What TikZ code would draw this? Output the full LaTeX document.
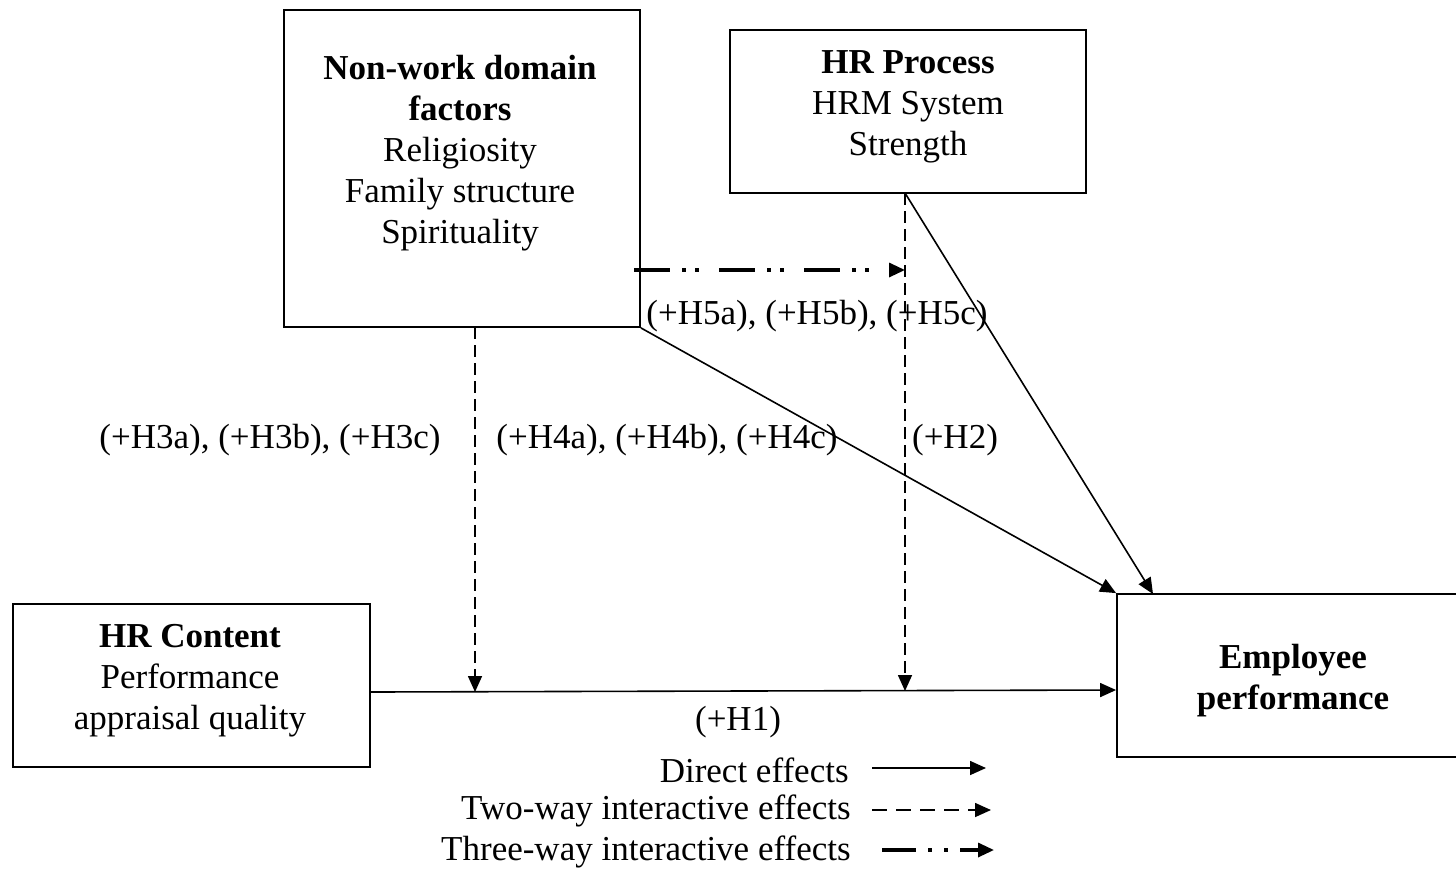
\documentclass[tikz,border=0pt]{standalone}
\usepackage{fontspec}
\setmainfont{Liberation Serif}
\usetikzlibrary{arrows.meta}
\begin{document}
\begin{tikzpicture}[x=0.5pt,y=-0.5pt,
  box/.style={draw,line width=0.9pt,rectangle,inner sep=0pt},
  txt/.style={align=center,inner sep=0pt,font=\fontsize{17.5pt}{20.5pt}\selectfont},
  lbl/.style={inner sep=0pt,font=\fontsize{17.5pt}{20.5pt}\selectfont},
  tip/.style={-{Triangle[length=8pt,width=7pt]}},
  solidarrow/.style={tip,line width=0.8pt},
  dasharrow/.style={tip,line width=0.8pt,dash pattern=on 6pt off 3pt},
  dotdasharrow/.style={tip,line width=1.6pt,dash pattern=on 18pt off 6pt on 2pt off 4.5pt on 2pt off 10pt}
]
\useasboundingbox (0,0) rectangle (1456,869);
% boxes
\node[box,minimum width=178pt,minimum height=158.5pt] (nw) at (462,168.5) {};
\node[box,minimum width=178pt,minimum height=81.5pt] (hp) at (908,111.5) {};
\node[box,minimum width=178.5pt,minimum height=81.5pt] (hc) at (191.5,685.5) {};
\begin{scope}
\clip (0,0) rectangle (1456,869);
\node[box,minimum width=179pt,minimum height=81.5pt] (ep) at (1296,675.5) {};
\end{scope}
% box texts
\node[txt] (nwt) at (460,153) {\textbf{Non-work domain}\\\textbf{factors}\\Religiosity\\Family structure\\Spirituality};
\node[txt] (hpt) at (908,107) {\textbf{HR Process}\\HRM System\\Strength};
\node[txt] (hct) at (190,681) {\textbf{HR Content}\\Performance\\appraisal quality};
\node[txt] (ept) at (1293,681) {\textbf{Employee}\\\textbf{performance}};
% coordinates
\coordinate (m1) at (475,692);
\coordinate (m2) at (905,691);
\coordinate (nwb) at (475,327);
\coordinate (hpb) at (905,193);
\coordinate (nwr) at (640,270);
\coordinate (m3) at (905,270);
\coordinate (eptl) at (1153,594);
% connectors
\draw[solidarrow] (hc.east |- 0,692) -- (ep.west |- 0,690);
\draw[dasharrow] (nwb) -- (m1);
\draw[dasharrow] (hpb) -- (m2);
\draw[solidarrow] (nw.south east) -- (ep.north west);
\draw[solidarrow] (hpb) -- (eptl);
\draw[dotdasharrow] ([xshift=-3pt]nwr) -- (m3);
% labels
\node[lbl] (l5) at (817,316) {(+H5a), (+H5b), (+H5c)};
\node[lbl] (l3) at (270,440) {(+H3a), (+H3b), (+H3c)};
\node[lbl] (l4) at (667,440) {(+H4a), (+H4b), (+H4c)};
\node[lbl] (l2) at (955,440) {(+H2)};
\node[lbl] (l1) at (738,722) {(+H1)};
% legend
\node[lbl,anchor=east] (lg1) at (849,770) {Direct effects};
\node[lbl,anchor=east] (lg2) at (851,811) {Two-way interactive effects};
\node[lbl,anchor=east] (lg3) at (851,852) {Three-way interactive effects};
\coordinate (a1s) at (872,768); \coordinate (a1e) at (986,768);
\coordinate (a2s) at (872,810); \coordinate (a2e) at (991,810);
\coordinate (a3s) at (882,850); \coordinate (a3e) at (994,850);
\draw[solidarrow] (a1s) -- (a1e);
\draw[dasharrow,dash pattern=on 7.5pt off 4.5pt] (a2s) -- (a2e);
\draw[tip,line width=1.6pt,dash pattern=on 17pt off 6pt on 2pt off 6pt on 2pt off 6pt] (a3s) -- (a3e);
\end{tikzpicture}
\end{document}
